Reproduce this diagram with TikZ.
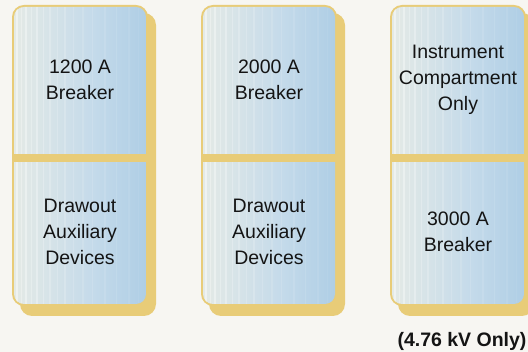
\documentclass[tikz,border=0pt]{standalone}
\usepackage{fontspec}
\setmainfont{Liberation Sans}
\definecolor{bg}{HTML}{F7F6F2}
\definecolor{gold}{HTML}{E8CC78}
\definecolor{pA}{HTML}{FBFBF8}
\definecolor{pB}{HTML}{E4EAE6}
\definecolor{pC}{HTML}{C4DAEA}
\definecolor{pD}{HTML}{94BFDF}
\pgfdeclarehorizontalshading{panel}{100bp}{color(0bp)=(pA); color(25bp)=(pB); color(55bp)=(pC); color(100bp)=(pD)}
\newcommand\drawcard[1]{%
  \begin{scope}[xshift=#1pt]
    \fill[gold, rounded corners=12pt] (8,13) rectangle (144,316);
    \fill[gold, rounded corners=12pt] (0,5) rectangle (136,306);
    \begin{scope}
      \clip[rounded corners=10pt] (2,7) rectangle (134,304);
      \shade[shading=panel] (2,7) rectangle (134,304);
      \foreach \s/\w/\o in {4/2/0.45, 9/1/0.3, 13/2/0.35, 19/1/0.25, 24/2/0.3, 31/1/0.25, 37/2/0.2, 45/1/0.18, 52/2/0.18, 61/1/0.15, 70/2/0.12, 80/1/0.12, 92/2/0.1, 104/1/0.1, 116/2/0.08, 126/1/0.06}
        \fill[white, opacity=\o] (\s,7) rectangle ++(\w,297);
    \end{scope}
    \fill[gold] (0,154) rectangle (136,162);
  \end{scope}}
\tikzset{lbl/.style={font=\fontsize{19.5}{26}\selectfont, align=center, inner sep=0pt, text=black!92}}
\begin{document}
\begin{tikzpicture}[x=1pt,y=-1pt]
  \useasboundingbox (0,0) rectangle (528,352);
  \clip (0,0) rectangle (528,352);
  \fill[bg] (0,0) rectangle (528,352);
  \drawcard{12}
  \drawcard{201}
  \drawcard{390}
  \node[lbl] (t1) at (80,80) {1200 A\\Breaker};
  \node[lbl] (b1) at (80,232) {Drawout\\Auxiliary\\Devices};
  \node[lbl] (t2) at (269,80) {2000 A\\Breaker};
  \node[lbl] (b2) at (269,232) {Drawout\\Auxiliary\\Devices};
  \node[lbl] (t3) at (458,80) {Instrument\\Compartment\\Only};
  \node[lbl] (b3) at (458,232) {3000 A\\Breaker};
  \node[lbl, font=\fontsize{19.5}{26}\selectfont\bfseries] (note) at (462,341) {(4.76 kV Only)};
\end{tikzpicture}
\end{document}
